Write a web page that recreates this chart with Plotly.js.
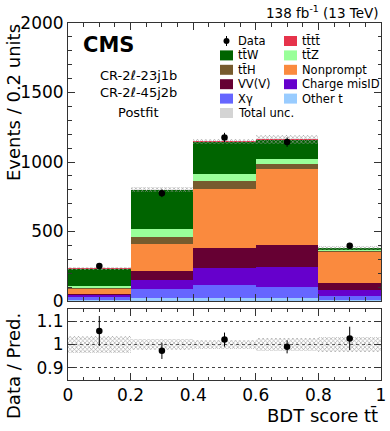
<!DOCTYPE html>
<html>
<head>
<meta charset="utf-8">
<script src="https://cdn.plot.ly/plotly-3.0.1.min.js"></script>
<style>
  body { margin: 0; background: #fff; }
  #plot { width: 390px; height: 431px; }
</style>
</head>
<body>
<div id="plot"></div>
<script>
// bin centres of BDT score
var bins = [0.1, 0.3, 0.5, 0.7, 0.9];

// postfit yields, stacked bottom -> top
var otherT      = [10, 19, 19, 19, 7];
var xGamma      = [22, 67, 96, 84, 29];
var chargeMisID = [9, 65, 125, 144, 43];
var vvv         = [7, 63, 140, 156, 48];
var nonprompt   = [36, 197, 425, 545, 227];
var ttH         = [10, 50, 55, 36, 5];
var ttZ         = [17, 58, 53, 36, 9];
var ttW         = [122, 281, 232, 139, 12];
var tttt        = [1, 2, 3, 3, 1];

var totUnc   = [9, 18, 20, 34, 13];

var dataY    = [252, 775, 1176, 1143, 398];
var dataErr  = [16, 28, 34, 34, 20];

var ratioY   = [1.058, 0.973, 1.021, 0.990, 1.026];
var ratioErr = [0.064, 0.035, 0.030, 0.028, 0.050];

var procs = [
  {name: 'Other t',      y: otherT,      color: '#99ccff'},
  {name: 'X\u03b3',      y: xGamma,      color: '#6666ff'},
  {name: 'Charge misID', y: chargeMisID, color: '#6600cc'},
  {name: 'VV(V)',        y: vvv,         color: '#660033'},
  {name: 'Nonprompt',    y: nonprompt,   color: '#fa8a3e'},
  {name: 'tt\u0304H',    y: ttH,         color: '#765b2e'},
  {name: 'tt\u0304Z',    y: ttZ,         color: '#99ff99'},
  {name: 'tt\u0304W',    y: ttW,         color: '#006400'},
  {name: 'tt\u0304tt\u0304', y: tttt,    color: '#e6334b'}
];

var FONT = 'DejaVu Sans';
var traces = [];
var total = [0, 0, 0, 0, 0];

procs.forEach(function (p) {
  traces.push({
    type: 'bar', x: bins, y: p.y, width: 0.2, name: p.name,
    marker: {color: p.color, line: {width: 0}},
    xaxis: 'x', yaxis: 'y', hoverinfo: 'skip'
  });
  for (var i = 0; i < total.length; i++) total[i] += p.y[i];
});

var hatch = {shape: 'x', size: 3, solidity: 0.35, fgcolor: '#9a9a9a', bgcolor: 'rgba(255,255,255,0)'};

// total uncertainty band (bars with base are overlaid, not stacked)
traces.push({
  type: 'bar', x: bins, width: 0.2,
  base: total.map(function (t, i) { return t - totUnc[i]; }),
  y: totUnc.map(function (u) { return 2 * u; }),
  marker: {color: 'rgba(0,0,0,0)', line: {width: 0}, pattern: hatch},
  xaxis: 'x', yaxis: 'y', hoverinfo: 'skip'
});

traces.push({
  type: 'scatter', mode: 'markers', x: bins, y: dataY,
  marker: {color: '#000', size: 6.5},
  error_y: {type: 'data', array: dataErr, color: '#000', thickness: 1, width: 0},
  xaxis: 'x', yaxis: 'y'
});

// ratio panel
var relUnc = totUnc.map(function (u, i) { return u / total[i]; });
traces.push({
  type: 'bar', x: bins, width: 0.2,
  base: relUnc.map(function (r) { return 1 - r; }),
  y: relUnc.map(function (r) { return 2 * r; }),
  marker: {color: 'rgba(0,0,0,0)', line: {width: 0}, pattern: hatch},
  xaxis: 'x2', yaxis: 'y2', hoverinfo: 'skip'
});
traces.push({
  type: 'scatter', mode: 'markers', x: bins, y: ratioY,
  marker: {color: '#000', size: 6.5},
  error_y: {type: 'data', array: ratioErr, color: '#000', thickness: 1, width: 0},
  xaxis: 'x2', yaxis: 'y2'
});

// pixel -> paper helpers (plot area x 68..381, y 23..380)
function px(X) { return (X - 68) / 313; }
function py(Y) { return (380 - Y) / 357; }

var shapes = [];
var annotations = [];

function note(text, X, Y, size, anchor, extra) {
  var a = {
    text: text, x: px(X), y: py(Y), xref: 'paper', yref: 'paper',
    xanchor: anchor || 'left', yanchor: 'middle', showarrow: false,
    font: {family: FONT, size: size, color: '#000'}
  };
  for (var k in extra) a[k] = extra[k];
  annotations.push(a);
}

note('138 fb<sup>-1</sup> (13 TeV)', 381, 12, 13.5, 'right');
note('<b>CMS</b>', 81, 45, 21, 'left');
note('CR-2\u2113-23j1b', 138, 75, 13, 'center');
note('CR-2\u2113-45j2b', 138, 93, 13, 'center');
note('Postfit', 138, 112, 13, 'center');
note('Events / 0.2 units', 13, 103, 18, 'center', {textangle: -90});
note('Data / Pred.', 13, 366, 18, 'center', {textangle: -90});
note('BDT score tt\u0304', 380, 415, 18, 'right');

// legend, two columns
var rowY = [41, 55.4, 69.8, 84.2, 98.6, 113];
var legCols = [
  [null, 'tt\u0304W', 'tt\u0304H', 'VV(V)', 'X\u03b3', 'unc'],
  ['tt\u0304tt\u0304', 'tt\u0304Z', 'Nonprompt', 'Charge misID', 'Other t']
];
var colX = [220, 284];
legCols.forEach(function (col, c) {
  col.forEach(function (name, r) {
    var X = colX[c], Y = rowY[r];
    if (name === null) {
      shapes.push({type: 'line', xref: 'paper', yref: 'paper', x0: px(X + 6.5), x1: px(X + 6.5),
        y0: py(Y - 5), y1: py(Y + 5), line: {color: '#000', width: 1}});
      shapes.push({type: 'circle', xref: 'paper', yref: 'paper', x0: px(X + 3.5), x1: px(X + 9.5),
        y0: py(Y - 3), y1: py(Y + 3), fillcolor: '#000', line: {color: '#000', width: 0}});
      note('Data', X + 16, Y, 11.5, 'left');
      return;
    }
    var label = name, fill;
    if (name === 'unc') {
      label = 'Total unc.';
      fill = '#d4d4d4';
    } else {
      fill = procs.filter(function (p) { return p.name === name; })[0].color;
    }
    shapes.push({type: 'rect', xref: 'paper', yref: 'paper', x0: px(X), x1: px(X + 13),
      y0: py(Y + 5), y1: py(Y - 5), fillcolor: fill, line: {width: 0}});
    note(label, X + 16, Y, 11.5, 'left');
  });
});

var axisCommon = {
  ticks: 'inside', mirror: 'allticks', showline: true, linecolor: '#333', linewidth: 1,
  tickcolor: '#333', showgrid: false, zeroline: false,
  tickfont: {family: FONT, size: 17, color: '#000'}
};

function ax(extra) {
  var o = {};
  for (var k in axisCommon) o[k] = axisCommon[k];
  for (var k2 in extra) o[k2] = extra[k2];
  return o;
}

var layout = {
  width: 390, height: 431,
  margin: {l: 68, r: 9, t: 23, b: 51},
  paper_bgcolor: '#fff', plot_bgcolor: '#fff',
  barmode: 'stack', bargap: 0,
  showlegend: false,
  font: {family: FONT, color: '#000'},
  xaxis: ax({domain: [0, 1], anchor: 'y', range: [0, 1], dtick: 0.2, ticklen: 7,
    showticklabels: false, matches: 'x2',
    minor: {dtick: 0.05, ticks: 'inside', ticklen: 3.5, tickcolor: '#333'}}),
  yaxis: ax({domain: [0.2213, 1], anchor: 'x', range: [0, 2000], tickvals: [0, 500, 1000, 1500, 2000],
    ticklen: 7, minor: {dtick: 100, ticks: 'inside', ticklen: 3.5, tickcolor: '#333'}}),
  xaxis2: ax({domain: [0, 1], anchor: 'y2', range: [0, 1], dtick: 0.2, ticklen: 7,
    tickvals: [0, 0.2, 0.4, 0.6, 0.8, 1], ticktext: ['0', '0.2', '0.4', '0.6', '0.8', '1'],
    minor: {dtick: 0.05, ticks: 'inside', ticklen: 3.5, tickcolor: '#333'}}),
  yaxis2: ax({domain: [0, 0.1989], anchor: 'x2', range: [0.848, 1.152],
    tickvals: [0.9, 1, 1.1], ticktext: ['0.9', '1', '1.1'], ticklen: 7,
    showgrid: true, gridcolor: '#444', griddash: 'dot', gridwidth: 1}),
  shapes: shapes,
  annotations: annotations
};

Plotly.newPlot('plot', traces, layout, {staticPlot: true, displayModeBar: false});
</script>
</body>
</html>
